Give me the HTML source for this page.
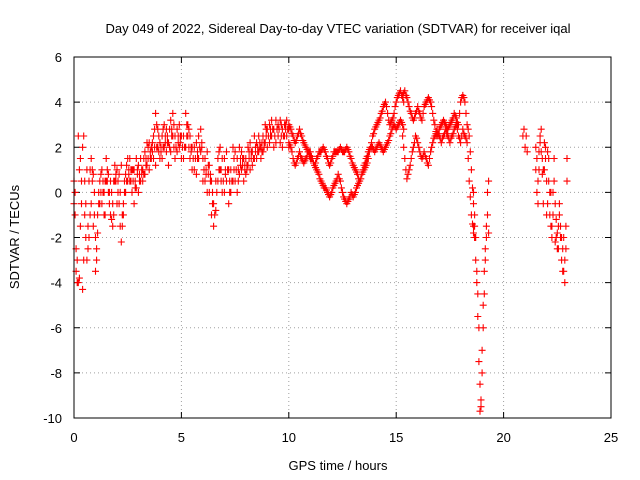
<!DOCTYPE html>
<html><head><meta charset="utf-8"><style>
body{margin:0;background:#fff}
svg{display:block;font-family:"Liberation Sans",sans-serif;font-size:13px}
</style></head><body>
<svg id="chart" width="640" height="480">
<rect width="640" height="480" fill="#fff"/>
<text x="338" y="33" text-anchor="middle">Day 049 of 2022, Sidereal Day-to-day VTEC variation (SDTVAR) for receiver iqal</text>
<text x="338" y="470" text-anchor="middle">GPS time / hours</text>
<text transform="translate(19,237) rotate(-90)" text-anchor="middle">SDTVAR / TECUs</text>
<g id="grid"></g><g id="ticks"></g><g id="pts"></g>
<rect x="74" y="57" width="537" height="361" fill="none" stroke="#000"/>
</svg>
<script>
const xTicks=[0,5,10,15,20,25];
const yTicks=[6,4,2,0,-2,-4,-6,-8,-10];
const trackStart=[0,0,10,10,15.3,15.3,18.6,18.6,20.9,21.5,21.5,0.05,0.05,10.05,10.05,15.35,15.35];
const trackStep=[0.1,0.1,0.1,0.1,0.1,0.1,0.05,0.05,0.05,0.05,0.05,0.1,0.1,0.1,0.1,0.1,0.1];
const t1=[-0.5,-2.5,-4,1.5,2,-1,-3,0.5,1.5,-1.5,-3.5,-1,0.5,-0.5,0,1.5,0.8,-1,-1.5,0.5,1,-0.5,-2.2,-0.5,0.8,1.5,0.5,0,1,0.2,1.2,0.5,1,1.8,1.2,2.2,1.5,2.5,3.5,2,1.5,2.5,3,1.8,2.2,3.2,2.5,1.5,2.8,2,1.5,2.5,3.5,2.5,1.5,2,1,2.2,1.5,2.8,1.5,0.5,1.8,0,-1,-1.5,0.5,1.5,1,0,1.5,0.5,-0.5,1,2,0.5,1.5,2,1,0.5,1.5,2,1,1.8,1.5,2.2,1.8,2,2.5,2.2,2.8,3,2.5,2,3.2,2.5,2.2,2.8,3,2.5,2.8];
const t2=[0.5,-3.5,2.5,-1.5,-4.3,0.5,1,-2,-0.5,0.8,-2,-1.8,-0.5,1,-1,0.5,0,0.5,-0.5,1.2,-0.5,0.8,1.2,-1,0,0.5,1.5,1,-0.5,1.5,0,1.5,0.5,0.8,2.2,1,2,1.5,1.2,2.8,2.2,1.5,2,2.8,1.2,1.8,3.5,2.5,1.8,3,2.5,1.5,2,3,2.5,1,2,0.8,2.5,1.8,0.5,1.5,0,1.2,0.5,-0.5,-0.8,0.5,2,1.5,0,1.8,1,0,0.5,1.8,0,0.8,1.8,1.5,0.8,1.2,2.2,1.2,2.5,1.5,2.5,1.5,1.8,3,2,2.2,3.2,2.8,2.2,3,3.2,2,2.5,3.2,2];
const t3=[3,2.8,2.5,2.2,2.5,2.8,2.5,2.2,2,1.8,1.5,1.5,1.2,1,0.8,0.5,0.3,0.2,0,-0.2,0,0.3,0.5,0.8,0.5,0,-0.3,-0.5,-0.3,0,-0.2,0,0.3,0.5,0.8,1,1.2,1.5,2,2.5,2.8,3,3.2,3.5,3.8,4,3.5,3,3.2,3.5,4,4.3,4.5,4.2];
const t4=[2.2,2,1.5,1.2,1.5,1.8,1.5,1.3,1.5,1.8,1.8,1.5,1.2,1.5,1.8,1.8,2,1.8,1.5,1.2,1.5,1.8,1.8,1.8,2,1.8,1.8,2,1.8,1.5,1.2,1,0.8,0.5,0.8,1.2,1.5,1.8,2,2,1.8,2,2.2,2,1.8,2,2.2,2.5,2.8,3,2.8,3,3.2,3];
const t5=[4.3,4.5,4.2,3.8,3.5,3.2,3.5,3.8,3.5,3.2,3.8,4,4.2,4,3.5,3,2.5,2.8,3,3.2,3,2.8,3,3.2,3.5,3.3,3,4,4.3,4,3,2.5,1,-0.5];
const t6=[2.5,1.5,0.6,1,1.5,2,2.5,2.2,1.8,1.5,1.8,1.5,1.2,1.8,2.2,2.5,2.8,2.5,2.2,2.5,2.8,2.5,2.2,2.5,2.8,3,2.5,2.2,2.8,2.5,2.2,0.5,-1,-1.8];
const t7=[-1.5,-2,-3,-4,-5.5,-7.5,-9.7,-9.5,-8,-6,-4.5,-3,-2,-1,-1.8];
const t8=[0,-1,-2,-3.5,-4.5,-6,-8.5,-9.2,-7,-5,-3.5,-2.5,-1.5,0,0.5];
const t9=[2.5,2.8,2,2.5,1.8];
const t10=[2,1.5,0.5,1.8,2.5,2.8,1.5,-0.5,1,2,0.5,-0.5,1.5,0,-1.5,-2,-1,0.5,-0.5,-2,-2.5,-1.5,-1,-2,-3,-2.5,-3.5,-4,-2.5,0.5];
const t11=[1,0,-0.5,1,2.2,1.8,0.8,1,2.2,1.5,-1,1.8,0.5,-1,0,-1.5,0,1.5,-2.2,-1.2,-1.8,-2.5,-0.5,-1.5,-2,-3.5,-2,-3,-1.5,1.5];
const t12=[-1,-3,-3.8,0.5,2.5,-2,-2.5,1,0.5,-1,-3,0,0,0.5,-1,1,0,-1.2,-1,0.8,0,-1.5,-1.5,0.5,1.2,0.8,1,0.5,0.5,0.8,0.8,1,1.5,1.5,2,1.8,2.2,2,3,1.8,2,2.8,2.2,2.5,2,2.8,2,2,2.2,2.5,2,2,3,2,1.8,1.5,1.5,1.8,2,2.2,1,1,1.2,0.5,-0.5,-1,0,1,0.5,0.5,1,1,0,0.5,1.5,1,1,1.5,1.5,1,1,1.5,1.5,1.5,2,1.8,2,2.2,2,2.5,2.5,2.5,2.8,2.5,2.8,2.8,2.5,2.5,2.8,2.8];
const t13=[0,-4,1,-0.5,-3,-0.5,-1.5,-1,1,0,-2.5,-0.5,0.8,0,0.5,0.5,-0.5,0,0.5,0.5,0.5,0,-1,0,0.5,1,0.5,1,0.2,1,0.5,0.8,0.8,1.2,1.5,1.5,1.8,2.8,2,2.5,1.8,2,2.5,2.2,2.8,2.5,3,2,2.5,2.2,2,2,2.5,2.8,2,1.5,1.5,1.5,2,2,1,0.8,0.8,0.8,0,-1,0,1.8,1,0.5,0.8,1,0.5,0.5,1,1,0.5,1.2,1.2,1.2,1.2,1.8,1.8,1.5,1.8,2,2.2,1.8,2.2,2.8,2.5,2.8,2.8,2.5,2.8,2.8,3,2.5,3,2.8];
const t14=[2.9,2.6,2.3,2.3,2.6,2.6,2.3,2.1,1.9,1.6,1.5,1.3,1.1,0.9,0.6,0.4,0.2,0.1,-0.1,-0.1,0.2,0.4,0.6,0.6,0.2,-0.2,-0.4,-0.4,-0.2,-0.1,-0.1,0.2,0.4,0.6,0.9,1.1,1.3,1.8,2.2,2.6,2.9,3.1,3.3,3.6,3.9,3.8,3.2,3.1,3.3,3.8,4.2,4.4,4.3,4];
const t15=[2.1,1.8,1.3,1.3,1.6,1.6,1.4,1.4,1.6,1.8,1.6,1.3,1.3,1.6,1.8,1.9,1.9,1.6,1.3,1.3,1.6,1.8,1.8,1.9,1.9,1.8,1.9,1.9,1.6,1.3,1.1,0.9,0.6,0.6,1,1.3,1.6,1.9,2,1.9,1.9,2.1,2.1,1.9,1.9,2.1,2.3,2.6,2.9,2.9,2.9,3.1,3.1,2.8];
const t16=[4.4,4.3,4,3.6,3.3,3.3,3.6,3.6,3.3,3.5,3.9,4.1,4.1,3.8,3.2,2.7,2.6,2.9,3.1,3.1,2.9,2.9,3.1,3.3,3.4,3.1,3.5,4.2,4.2,3.5,2.8,1.8,0.2,-1];
const t17=[2,1,0.8,1.2,1.8,2.2,2.4,2,1.6,1.6,1.6,1.3,1.5,2,2.4,2.6,2.6,2.4,2.4,2.6,2.6,2.4,2.4,2.6,2.9,2.8,2.4,2.5,2.6,2.4,1.5,-0.2,-1.4,-1.5];
const tracks=[t1,t2,t3,t4,t5,t6,t7,t8,t9,t10,t11,t12,t13,t14,t15,t16,t17];

const NS="http://www.w3.org/2000/svg";
const X0=74,X1=611,Y0=418,Y1=57;
function xs(v){return X0+(v-0)/(25-0)*(X1-X0);}
function ys(v){return Y0-(v+10)/16*(Y0-Y1);}
function mk(tag,attrs,parent){const e=document.createElementNS(NS,tag);for(const k in attrs)e.setAttribute(k,attrs[k]);parent.appendChild(e);return e;}
const grid=document.getElementById('grid'),ticks=document.getElementById('ticks'),pts=document.getElementById('pts');
xTicks.forEach(v=>{
  const x=xs(v);
  if(v>0&&v<25){const g=mk('line',{x1:x,x2:x,y1:Y0,y2:Y1,stroke:'#a0a0a0','stroke-dasharray':'1,3'},grid);
  
  }
  mk('line',{x1:x,x2:x,y1:Y0,y2:Y0-6,stroke:'#000'},ticks);
  mk('line',{x1:x,x2:x,y1:Y1,y2:Y1+6,stroke:'#000'},ticks);
  const t=mk('text',{x:x,y:442,'text-anchor':'middle'},ticks);t.textContent=v;
  
  
});
yTicks.forEach(v=>{
  const y=ys(v);
  if(v>-10&&v<6){const g=mk('line',{x1:X0,x2:X1,y1:y,y2:y,stroke:'#a0a0a0','stroke-dasharray':'1,3'},grid);
  
  }
  mk('line',{x1:X0,x2:X0+6,y1:y,y2:y,stroke:'#000'},ticks);
  mk('line',{x1:X1,x2:X1-6,y1:y,y2:y,stroke:'#000'},ticks);
  const t=mk('text',{x:62,y:y+5,'text-anchor':'end'},ticks);t.textContent=v;
  
  
});
let d='';
tracks.forEach((tr,i)=>{tr.forEach((v,j)=>{const x=xs(trackStart[i]+j*trackStep[i]),y=ys(v);d+=`M${(x-3.5).toFixed(1)} ${y.toFixed(1)}h7M${x.toFixed(1)} ${(y-3.5).toFixed(1)}v7`;});});
const p=mk('path',{d:d,stroke:'#f00','stroke-width':1.1,fill:'none'},pts);


</script>
</body></html>
